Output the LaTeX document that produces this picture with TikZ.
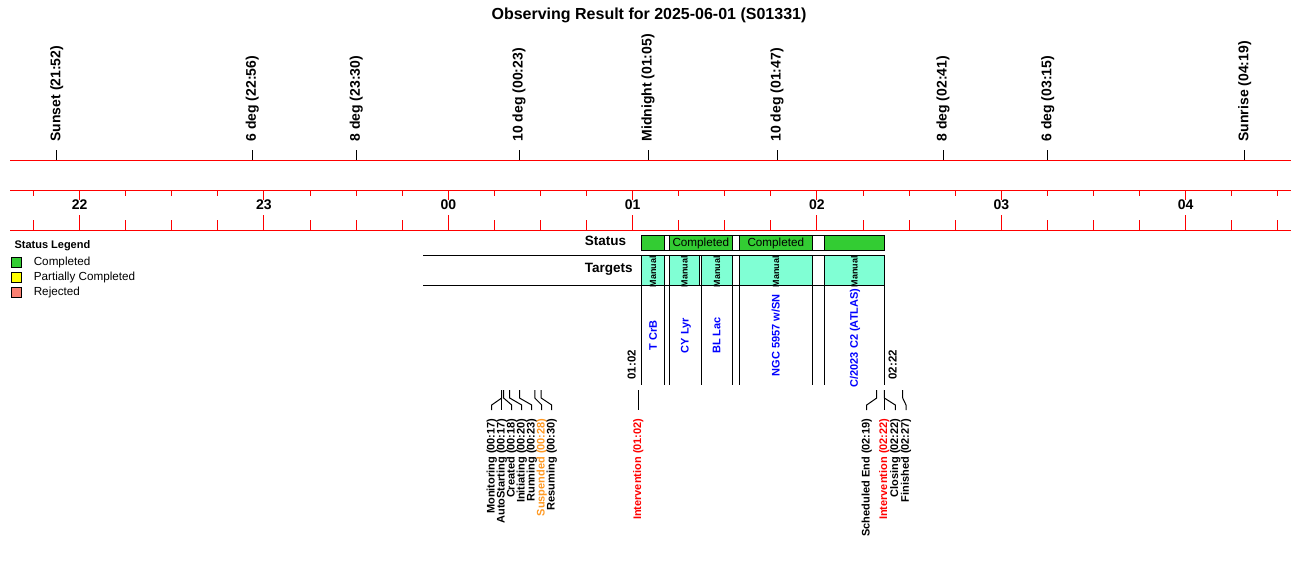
\documentclass[tikz,border=0pt]{standalone}
\usepackage{fontspec}
\setmainfont{Liberation Sans}
\usetikzlibrary{positioning}

\newcommand{\fsz}[1]{\fontsize{#1}{#1}\selectfont}
\definecolor{okgreen}{HTML}{33CC33}
\definecolor{tgtcyan}{HTML}{80FFD4}
\definecolor{partyellow}{HTML}{FFFF00}
\definecolor{rejsalmon}{HTML}{FA8072}
\definecolor{susporange}{HTML}{FF9922}

\begin{document}
\begin{tikzpicture}[x=1pt,y=-1pt,line width=1pt,
    every node/.style={inner sep=0pt},
    axisred/.style={draw=red,line width=1pt},
    skylab/.style={rotate=90,anchor=west,font=\fsz{14}\bfseries},
    hourlab/.style={font=\fsz{14}\bfseries},
    rowlab/.style={anchor=west,font=\fsz{13.5}\bfseries},
    statbox/.style={draw,fill=okgreen,minimum height=14.6pt,font=\fsz{11.7}},
    gapbox/.style={draw,fill=white,minimum height=14.6pt},
    tgtbox/.style={draw,fill=tgtcyan,minimum height=29.6pt},
    manlab/.style={rotate=90,anchor=west,font=\fsz{9}\bfseries},
    tgtname/.style={rotate=90,text=blue,font=\fsz{11}\bfseries},
    timelab/.style={rotate=90,anchor=west,font=\fsz{11.5}\bfseries},
    evlab/.style={rotate=90,anchor=east,font=\fsz{11}\bfseries},
    legbox/.style={draw,minimum width=10pt,minimum height=10pt},
    legtxt/.style={anchor=west,font=\fsz{11.7}}]
  \useasboundingbox (0,0) rectangle (1300,560);

  % title
  \node[font=\fsz{16}\bfseries] (title) at (649,15) {Observing Result for 2025-06-01 (S01331)};

  % twilight marks
  \node[skylab] (kSunset) at (56.7,142) {Sunset (21:52)};
  \node[skylab] (kSixE) at (252.3,142) {6 deg (22:56)};
  \node[skylab] (kEightE) at (356.3,142) {8 deg (23:30)};
  \node[skylab] (kTenE) at (519,142) {10 deg (00:23)};
  \node[skylab] (kMid) at (648,142) {Midnight (01:05)};
  \node[skylab] (kTenM) at (777,142) {10 deg (01:47)};
  \node[skylab] (kEightM) at (943,142) {8 deg (02:41)};
  \node[skylab] (kSixM) at (1047.7,142) {6 deg (03:15)};
  \node[skylab] (kSunrise) at (1244.7,142) {Sunrise (04:19)};
  \foreach \k in {Sunset,SixE,EightE,TenE,Mid,TenM,EightM,SixM,Sunrise}
    \draw ([yshift=-8pt]k\k.west) -- ++(0,10);

  % time axis
  \draw[axisred] (10,160) -- (1291,160);
  \draw[axisred] (10,190.3) -- (1291,190.3);
  \draw[axisred] (10,230) -- (1291,230);
  \foreach \m in {-135,-120,...,270} {
    \draw[red] ({448.3+(\m)*3.0722},190.3) -- ++(0,5.5);
    \draw[red] ({448.3+(\m)*3.0722},230) -- ++(0,-10);
  }
  \foreach \m/\h in {-120/22,-60/23,0/00,60/01,120/02,180/03,240/04} {
    \draw[red] ({448.3+(\m)*3.0722},190.3) -- ++(0,9.7);
    \draw[red] ({448.3+(\m)*3.0722},230) -- ++(0,-15);
    \node[hourlab] (h\h) at ({448.3+(\m)*3.0722},204.3) {\h};
  }

  % legend
  \node[anchor=west,font=\fsz{11}\bfseries] (legT) at (14,246) {Status Legend};
  \node[legbox,fill=okgreen] (legC) at (16.3,262.3) {};
  \node[legbox,fill=partyellow] (legP) at (16.3,277.5) {};
  \node[legbox,fill=rejsalmon] (legR) at (16.3,292.5) {};
  \node[legtxt,right=11.5pt of legC] (legCt) {Completed};
  \node[legtxt,right=11.5pt of legP] (legPt) {Partially Completed};
  \node[legtxt,right=11.5pt of legR] (legRt) {Rejected};

  % status row
  \node[rowlab] (rStatus) at (584.3,240.7) {Status};
  \node[statbox,minimum width=22.6pt] (s1) at (653,243) {};
  \node[gapbox,minimum width=5pt] (g1) at (666.8,243) {};
  \node[statbox,minimum width=63pt] (s2) at (700.8,243) {Completed};
  \node[gapbox,minimum width=7pt] (g2) at (735.8,243) {};
  \node[statbox,minimum width=73pt] (s3) at (775.8,243) {Completed};
  \node[gapbox,minimum width=12pt] (g3) at (818.3,243) {};
  \node[statbox,minimum width=60pt] (s4) at (854.3,243) {};

  % targets row
  \node[rowlab] (rTargets) at (584.3,269.3) {Targets};
  \draw (423,255.4) -- (884.3,255.4);
  \draw (423,285) -- (884.3,285);
  \node[tgtbox,minimum width=22.6pt] (tTCrB) at (653,270.2) {};
  \node[tgtbox,minimum width=30pt] (tCYLyr) at (684.3,270.2) {};
  \node[tgtbox,minimum width=31pt] (tBLLac) at (716.8,270.2) {};
  \node[tgtbox,minimum width=73pt] (tNGC) at (775.8,270.2) {};
  \node[tgtbox,minimum width=60pt] (tATLAS) at (854.3,270.2) {};
  \foreach \t in {TCrB,CYLyr,BLLac,NGC,ATLAS}
    \node[manlab] (m\t) at ([yshift=-2pt]t\t.south) {Manual};
  \foreach \x in {641.7,664.3,669.3,701.3,732.3,739.3,812.3,824.3,884.3}
    \draw (\x,285) -- (\x,385.3);
  \node[tgtname] (nTCrB) at (653,335.5) {T CrB};
  \node[tgtname] (nCYLyr) at (686,335.5) {CY Lyr};
  \node[tgtname] (nBLLac) at (716.7,335.5) {BL Lac};
  \node[tgtname] (nNGC) at (775.7,335.5) {NGC 5957 w/SN};
  \node[tgtname] (nATLAS) at (855,338) {C/2023 C2 (ATLAS)};
  \node[timelab] (tStart) at (631.7,380) {01:02};
  \node[timelab] (tEnd) at (892.7,380) {02:22};

  % events
  \coordinate (eMon) at (501.7,390);
  \coordinate (eAuto) at (501.7,390);
  \coordinate (eCre) at (503.6,390);
  \coordinate (eIni) at (509.7,390);
  \coordinate (eRun) at (519.5,390);
  \coordinate (eSus) at (534.8,390);
  \coordinate (eRes) at (541.2,390);
  \coordinate (eIntA) at (638.3,390);
  \coordinate (eSch) at (876.7,390);
  \coordinate (eIntB) at (884.3,390);
  \coordinate (eClo) at (884.3,390);
  \coordinate (eFin) at (902.7,390);
  \node[evlab] (lMon) at (491.7,418) {Monitoring (00:17)};
  \node[evlab] (lAuto) at (501.7,418) {AutoStarting (00:17)};
  \node[evlab] (lCre) at (511.7,418) {Created (00:18)};
  \node[evlab] (lIni) at (521.7,418) {Initiating (00:20)};
  \node[evlab] (lRun) at (531.7,418) {Running (00:23)};
  \node[evlab,text=susporange] (lSus) at (541.7,418) {Suspended (00:28)};
  \node[evlab] (lRes) at (551.7,418) {Resuming (00:30)};
  \node[evlab,text=red] (lIntA) at (638.3,418) {Intervention (01:02)};
  \node[evlab] (lSch) at (866.7,418) {Scheduled End (02:19)};
  \node[evlab,text=red] (lIntB) at (884.3,418) {Intervention (02:22)};
  \node[evlab] (lClo) at (895.3,418) {Closing (02:22)};
  \node[evlab] (lFin) at (906,418) {Finished (02:27)};
  \foreach \n in {Mon,Auto,Cre,Ini,Run,Sus,Res,IntA,Sch,IntB,Clo,Fin}
    \draw (e\n) -- ++(0,8) -- ([yshift=13pt]l\n.east) -- ([yshift=8pt]l\n.east);
\end{tikzpicture}
\end{document}
